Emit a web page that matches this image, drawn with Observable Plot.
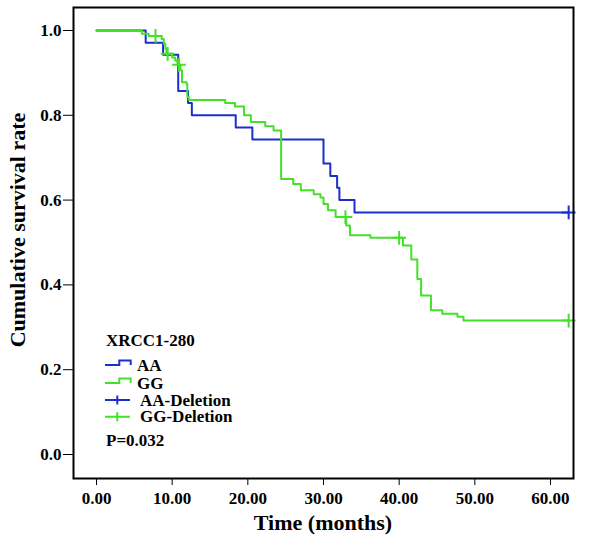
<!DOCTYPE html>
<html>
<head>
<meta charset="utf-8">
<script src="https://cdn.jsdelivr.net/npm/d3@7"></script>
<script src="https://cdn.jsdelivr.net/npm/@observablehq/plot@0.6"></script>
<style>
  html, body { margin: 0; padding: 0; background: white; }
</style>
</head>
<body>
<div id="chart"></div>
<script>
// ---- data ----
const aaTime = [0, 6.5, 8.8, 10.8, 12.1, 12.6, 18.4, 20.6, 30.0, 30.9, 31.8, 32.1, 34.1, 62.4];
const aaSurv = [1, 0.971, 0.943, 0.857, 0.829, 0.800, 0.771, 0.743, 0.686, 0.657, 0.629, 0.600, 0.571, 0.571];
const aaCensorTime = [62.4];
const aaCensorSurv = [0.571];

const ggTime = [0, 6.0, 6.9, 8.6, 8.9, 9.1, 9.25, 10.0, 10.4, 10.7, 11.1, 11.3, 11.9, 12.0, 12.2, 17.0, 18.3, 19.5, 20.4, 22.3, 23.4, 24.4, 26.0, 27.0, 28.7, 29.6, 30.0, 30.6, 31.6, 33.0, 33.5, 36.2, 40.5, 41.6, 42.4, 42.9, 44.2, 45.7, 47.7, 48.5, 62.4];
const ggSurv = [1, 0.992, 0.987, 0.980, 0.969, 0.957, 0.945, 0.936, 0.929, 0.919, 0.906, 0.878, 0.874, 0.843, 0.836, 0.829, 0.821, 0.800, 0.784, 0.774, 0.764, 0.650, 0.638, 0.623, 0.614, 0.606, 0.591, 0.576, 0.560, 0.540, 0.517, 0.511, 0.493, 0.460, 0.414, 0.375, 0.340, 0.332, 0.325, 0.316, 0.316];
const ggCensorTime = [7.8, 9.4, 10.9, 32.9, 40.0, 62.4];
const ggCensorSurv = [0.987, 0.945, 0.919, 0.560, 0.511, 0.316];

const xTicks = [0, 10, 20, 30, 40, 50, 60];
const yTicks = [0, 0.2, 0.4, 0.6, 0.8, 1.0];

const legendTitle = "XRCC1-280";
const legendLabels = ["AA", "GG", "AA-Deletion", "GG-Deletion"];
const pValueText = "P=0.032";
const xTitle = "Time (months)";
const yTitle = "Cumulative survival rate";

// ---- build tables ----
const blue = "#1c2ed0";
const green = "#44e02a";
const aaData = aaTime.map((t, i) => ({t, s: aaSurv[i]}));
const ggData = ggTime.map((t, i) => ({t, s: ggSurv[i]}));
const aaCens = aaCensorTime.map((t, i) => ({t, s: aaCensorSurv[i]}));
const ggCens = ggCensorTime.map((t, i) => ({t, s: ggCensorSurv[i]}));

const font = "'Liberation Serif', 'Times New Roman', serif";

const plot = Plot.plot({
  width: 602,
  height: 545,
  marginLeft: 73,
  marginRight: 29,
  marginTop: 7,
  marginBottom: 67,
  style: {fontFamily: font, fontWeight: "bold", fontSize: "17px", background: "white", color: "black", overflow: "visible"},
  x: {domain: [-3.04, 63.04], ticks: xTicks, tickFormat: d => d.toFixed(2), tickSize: 7, tickPadding: 6, label: null},
  y: {domain: [-0.0566, 1.0542], ticks: yTicks, tickFormat: d => d.toFixed(1), tickSize: 10, tickPadding: 2, label: null},
  marks: [
    Plot.line(aaData, {x: "t", y: "s", curve: "step-after", stroke: blue, strokeWidth: 2}),
    Plot.line(ggData, {x: "t", y: "s", curve: "step-after", stroke: green, strokeWidth: 2}),
    Plot.dot(aaCens, {x: "t", y: "s", symbol: "plus", r: 4.5, stroke: blue, strokeWidth: 2}),
    Plot.dot(ggCens, {x: "t", y: "s", symbol: "plus", r: 4.5, stroke: green, strokeWidth: 2}),
    Plot.frame({stroke: "black", strokeWidth: 2})
  ]
});

const svg = d3.select(plot);
const g = svg.append("g")
  .attr("font-family", font)
  .attr("font-weight", "bold")
  .attr("text-anchor", "start")
  .attr("fill", "black");

// axis titles
g.append("text")
  .attr("x", 323).attr("y", 530)
  .attr("text-anchor", "middle")
  .attr("font-size", 22)
  .text(xTitle);
g.append("text")
  .attr("transform", "translate(25,230) rotate(-90)")
  .attr("text-anchor", "middle")
  .attr("font-size", 22)
  .text(yTitle);

// legend
g.append("text").attr("x", 106).attr("y", 346).attr("font-size", 17).attr("text-anchor", "start").text(legendTitle);
const rowY = [365, 383, 400, 416.7];
const colors = [blue, green, blue, green];
legendLabels.forEach((lab, i) => {
  const y = rowY[i];
  if (i < 2) {
    g.append("path")
      .attr("d", `M105,${y} H119.3 V${y - 4.5} H130.7 V${y}`)
      .attr("fill", "none").attr("stroke", colors[i]).attr("stroke-width", 2);
  } else {
    g.append("path")
      .attr("d", `M105,${y} H130 M117.3,${y - 4.5} V${y + 4.5}`)
      .attr("fill", "none").attr("stroke", colors[i]).attr("stroke-width", 2);
  }
  g.append("text")
    .attr("x", i < 2 ? 137 : 140).attr("y", y + 5.7)
    .attr("font-size", 17)
    .attr("text-anchor", "start")
    .text(lab);
});
g.append("text").attr("x", 106).attr("y", 446).attr("font-size", 17).attr("text-anchor", "start").text(pValueText);

document.getElementById("chart").appendChild(plot);
</script>
</body>
</html>
